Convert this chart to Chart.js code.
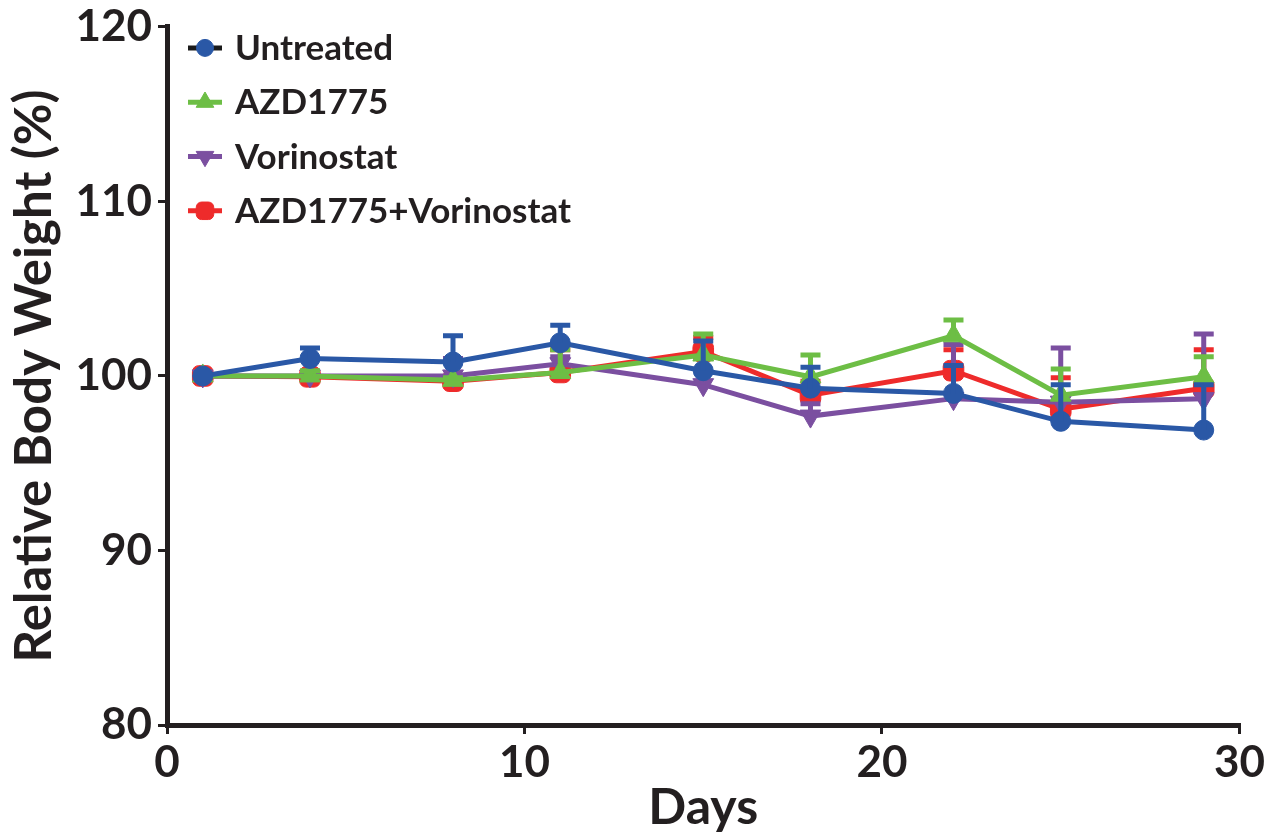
<!DOCTYPE html>
<html>
<head>
<meta charset="utf-8">
<script src="https://cdn.jsdelivr.net/npm/chart.js@4/dist/chart.umd.min.js"></script>
<style>
  html, body { margin: 0; padding: 0; background: #fff; }
  #wrap { width: 1267px; height: 832px; }
</style>
</head>
<body>
<div id="wrap"><canvas id="weightChart" width="1267" height="832"></canvas></div>
<script>
const days = [1, 4, 8, 11, 15, 18, 22, 25, 29];
const seriesNames = ['Untreated', 'AZD1775', 'Vorinostat', 'AZD1775+Vorinostat'];

const untreated = [100, 101.0, 100.8, 101.9, 100.3, 99.3, 99.0, 97.4, 96.9];
const azd1775 = [100, 100.0, 99.75, 100.2, 101.2, 99.95, 102.3, 98.9, 99.95];
const vorinostat = [100, 100.0, 100.0, 100.7, 99.5, 97.7, 98.7, 98.5, 98.7];
const combo = [100, 99.95, 99.7, 100.2, 101.4, 98.9, 100.3, 98.1, 99.3];

// top of the error bars (only the upper half is drawn)
const untreatedUpper = [100, 101.6, 102.3, 102.9, 102.0, 100.5, 100.6, 99.5, 99.5];
const azd1775Upper = [100, 100.3, 99.9, 101.5, 102.4, 101.2, 103.2, 100.4, 101.1];
const vorinostatUpper = [100, 100.2, 101.0, 101.1, 101.0, 98.4, 101.8, 101.6, 102.4];
const comboUpper = [100, 100.1, 99.9, 101.5, 102.2, 99.7, 101.5, 99.9, 101.5];

const yTicks = [80, 90, 100, 110, 120];
const xTicks = [0, 10, 20, 30];

const colors = ['#2a58a6', '#6dbe45', '#7b4fa0', '#ee2b2b'];
const legendLineColors = ['#1a1a1a', '#6dbe45', '#7b4fa0', '#ee2b2b'];
const pointStyles = ['circle', 'triangle', 'triangle', 'rectRounded'];
const pointRotations = [0, 0, 180, 0];
const pointRadii = [10, 12, 12, 12];

const values = [untreated, azd1775, vorinostat, combo];
const uppers = [untreatedUpper, azd1775Upper, vorinostatUpper, comboUpper];

const FONT = 'Lato, "Open Sans", sans-serif';

const datasets = seriesNames.map((name, i) => ({
  label: name,
  data: days.map((d, j) => ({ x: d, y: values[i][j] })),
  upper: uppers[i],
  borderColor: colors[i],
  backgroundColor: colors[i],
  borderWidth: 5,
  pointStyle: pointStyles[i],
  pointRotation: pointRotations[i],
  pointRadius: pointRadii[i],
  pointHoverRadius: pointRadii[i],
  pointBorderWidth: 1,
  tension: 0,
  fill: false
}));

const errorBars = {
  id: 'errorBars',
  afterDatasetDraw(chart, args) {
    const ds = chart.data.datasets[args.index];
    const xs = chart.scales.x, ys = chart.scales.y;
    const ctx = chart.ctx;
    ctx.save();
    ctx.strokeStyle = ds.borderColor;
    ctx.lineWidth = 5;
    days.forEach((d, j) => {
      const top = ds.upper[j];
      const val = ds.data[j].y;
      if (top - val < 0.15) return;
      const px = xs.getPixelForValue(d);
      const py = ys.getPixelForValue(val);
      const pt = ys.getPixelForValue(top);
      ctx.beginPath();
      ctx.moveTo(px, py);
      ctx.lineTo(px, pt);
      ctx.moveTo(px - 10, pt);
      ctx.lineTo(px + 10, pt);
      ctx.stroke();
    });
    ctx.restore();
  }
};

const insideLegend = {
  id: 'insideLegend',
  afterDraw(chart) {
    const ctx = chart.ctx;
    const area = chart.chartArea;
    ctx.save();
    chart.data.datasets.forEach((ds, i) => {
      const y = area.top + 21 + i * 54.3;
      const x0 = area.left + 21;
      ctx.strokeStyle = legendLineColors[i];
      ctx.lineWidth = 5;
      ctx.beginPath();
      ctx.moveTo(x0, y);
      ctx.lineTo(x0 + 34, y);
      ctx.stroke();
      ctx.fillStyle = ds.backgroundColor;
      ctx.strokeStyle = ds.borderColor;
      ctx.lineWidth = 1;
      Chart.helpers.drawPoint(ctx, {
        pointStyle: ds.pointStyle,
        rotation: ds.pointRotation,
        radius: ds.pointRadius * 0.85,
        borderWidth: 1
      }, x0 + 17, y);
      ctx.fillStyle = '#231f20';
      ctx.font = 'bold 35px ' + FONT;
      ctx.textBaseline = 'middle';
      ctx.textAlign = 'left';
      ctx.fillText(ds.label, x0 + 47, y + 1);
    });
    ctx.restore();
  }
};

new Chart(document.getElementById('weightChart').getContext('2d'), {
  type: 'line',
  data: { datasets },
  plugins: [errorBars, insideLegend],
  options: {
    responsive: false,
    animation: false,
    events: [],
    layout: { padding: { top: 22, right: 22, left: 0, bottom: 0 } },
    plugins: { legend: { display: false }, tooltip: { enabled: false } },
    scales: {
      x: {
        type: 'linear',
        min: 0,
        max: 30,
        afterBuildTicks: (axis) => { axis.ticks = xTicks.map(v => ({ value: v })); },
        afterFit: (axis) => { axis.height = 107; },
        border: { display: true, color: '#231f20', width: 5 },
        grid: { drawOnChartArea: false, color: '#231f20', lineWidth: 3, tickLength: 9 },
        ticks: { color: '#231f20', font: { family: FONT, size: 44, weight: 'bold' }, padding: 2, maxRotation: 0 },
        title: { display: true, text: 'Days', color: '#231f20', font: { family: FONT, size: 50, weight: 'bold' }, padding: { top: -6, bottom: -6 } }
      },
      y: {
        min: 80,
        max: 120,
        afterBuildTicks: (axis) => { axis.ticks = yTicks.map(v => ({ value: v })); },
        afterFit: (axis) => { axis.width = 167; },
        border: { display: true, color: '#231f20', width: 5 },
        grid: { drawOnChartArea: false, color: '#231f20', lineWidth: 3, tickLength: 9 },
        ticks: { color: '#231f20', font: { family: FONT, size: 44, weight: 'bold', lineHeight: 0.95 }, padding: 6 },
        title: { display: true, text: 'Relative Body Weight (%)', color: '#231f20', font: { family: FONT, size: 51, weight: 'bold' }, padding: { top: 4, bottom: 0 } }
      }
    }
  }
});
</script>
</body>
</html>
